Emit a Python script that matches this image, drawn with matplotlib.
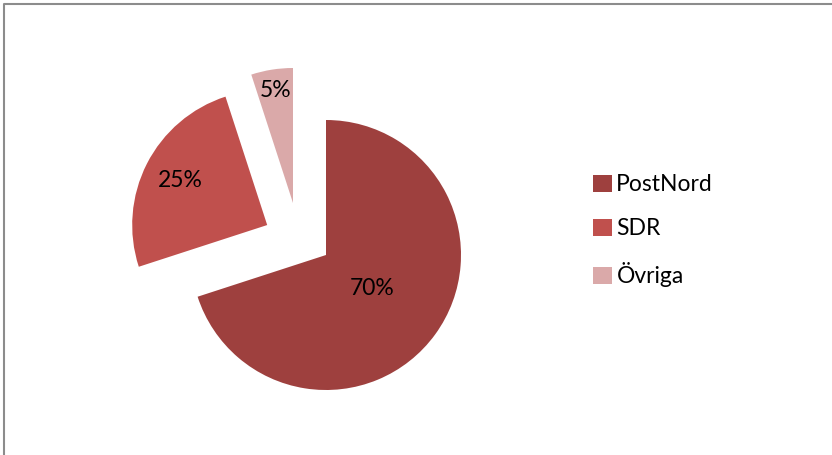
import matplotlib
matplotlib.use('Agg')
import matplotlib.pyplot as plt
from matplotlib.lines import Line2D
import numpy as np

labels = ['PostNord', 'SDR', 'Övriga']
shares = [70, 25, 5]
colors = ['#9E403E', '#C0504D', '#DAA9A9']

plt.rcParams['font.family'] = ['Lato', 'DejaVu Sans']

W, H = 832, 455
fig = plt.figure(figsize=(W / 100, H / 100), dpi=100)
ax = fig.add_axes([0, 0, 1, 1])

cx, cy, r = 326, H - 255, 135
wedges, texts, autotexts = ax.pie(
    shares, colors=colors, startangle=90, counterclock=False,
    center=(cx, cy), radius=r, explode=[0, 66, 62],
    autopct='%d%%', pctdistance=0.6, frame=True,
    textprops={'fontsize': 16.5, 'color': 'black'})
ax.set_xlim(0, W)
ax.set_ylim(0, H)
ax.set_aspect('equal')
ax.axis('off')

# Excel pulls the small slice more to the left than its mid angle
wedges[2].set_center((cx - 33, cy + 52))

# label distance per slice (fraction of radius)
pct_dist = [0.42, 0.72, 0.84]
for w, t, d in zip(wedges, autotexts, pct_dist):
    th = np.deg2rad((w.theta1 + w.theta2) / 2)
    x0, y0 = w.center
    t.set_position((x0 + d * r * np.cos(th), y0 + d * r * np.sin(th)))

ax.legend(wedges, labels, loc='upper left', bbox_to_anchor=(582 / W, 1 - 163 / H),
          frameon=False, fontsize=16.5, handlelength=0.8, handleheight=0.8,
          handletextpad=0.2, labelspacing=1.0, borderpad=0)

# chart area border (only top and left edges visible)
fig.add_artist(Line2D([4 / W, 4 / W, 1], [0, 1 - 4 / H, 1 - 4 / H],
                      transform=fig.transFigure, color='#8C8C8C', lw=1.5))

fig.savefig('out.png', dpi=100)
